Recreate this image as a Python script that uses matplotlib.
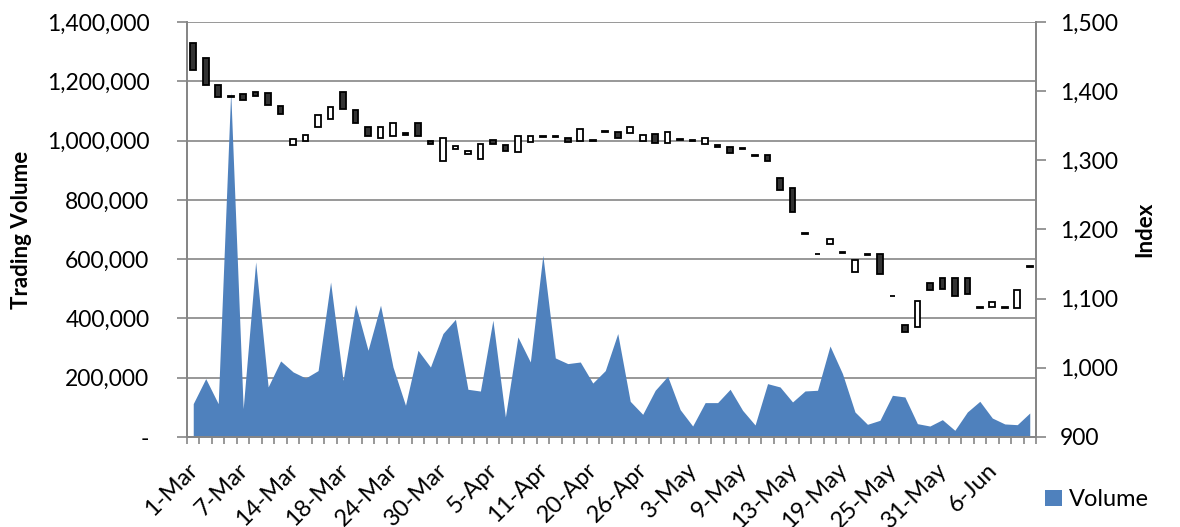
import matplotlib
matplotlib.use("Agg")
import matplotlib.pyplot as plt
from matplotlib.patches import Patch
from matplotlib.ticker import FuncFormatter, MultipleLocator, FixedLocator
from matplotlib.transforms import ScaledTranslation
import numpy as np

plt.rcParams['font.family'] = ['Lato', 'DejaVu Sans']

# ---- data ----
tick_labels = ['1-Mar', '7-Mar', '14-Mar', '18-Mar', '24-Mar', '30-Mar', '5-Apr',
               '11-Apr', '20-Apr', '26-Apr', '3-May', '9-May', '13-May', '19-May',
               '25-May', '31-May', '6-Jun']

volume = [112500, 197000, 112500, 1165000, 95700, 591000, 169000, 256600, 219500, 199000,
          224000, 523000, 191000, 447000, 292600, 444600, 236000, 107000, 292600, 236000,
          349000, 397000, 161000, 155000, 394000, 67500, 337600, 253000, 613000, 266700,
          247600, 253000, 182000, 224000, 349000, 120400, 76500, 157600, 204800, 92300,
          37100, 116000, 116000, 161000, 90000, 40500, 180000, 168800, 118200, 155300,
          157600, 307000, 213800, 84400, 42800, 56300, 140700, 135000, 45000, 37000,
          58500, 22500, 84400, 120400, 64000, 44000, 41600, 81000]

index_open = [1469.5, 1447.8, 1409.2, 1392.5, 1396.1, 1399.0, 1397.1, 1379.2, 1322.3, 1328.1,
              1348.4, 1359.9, 1399.5, 1373.0, 1347.9, 1331.9, 1335.8, 1340.2, 1353.7, 1328.6,
              1299.6, 1316.0, 1309.7, 1302.0, 1330.0, 1321.8, 1312.6, 1326.2, 1334.9, 1334.9,
              1332.4, 1328.1, 1329.1, 1342.6, 1340.6, 1340.2, 1328.6, 1338.2, 1325.7, 1331.0,
              1329.1, 1323.7, 1322.8, 1318.9, 1318.0, 1307.8, 1307.8, 1274.5, 1260.5, 1194.9,
              1165.0, 1178.5, 1166.9, 1138.9, 1164.5, 1165.0, 1104.2, 1061.7, 1059.3, 1122.0,
              1129.2, 1129.2, 1129.2, 1087.3, 1087.3, 1087.3, 1086.8, 1146.6]

index_close = [1430.9, 1408.2, 1391.8, 1391.5, 1387.0, 1392.8, 1380.2, 1367.7, 1331.0, 1336.8,
               1365.7, 1377.8, 1373.9, 1354.6, 1334.8, 1347.9, 1353.7, 1336.8, 1335.3, 1324.2,
               1331.9, 1321.3, 1313.6, 1323.7, 1324.2, 1313.1, 1334.8, 1334.8, 1333.9, 1333.9,
               1327.1, 1345.9, 1328.1, 1341.6, 1331.9, 1348.8, 1336.8, 1325.7, 1340.6, 1330.0,
               1328.1, 1332.4, 1318.9, 1310.2, 1317.0, 1306.8, 1299.1, 1257.1, 1225.8, 1193.9,
               1164.0, 1186.7, 1165.9, 1155.8, 1163.5, 1136.0, 1103.2, 1051.1, 1096.9, 1111.9,
               1113.8, 1103.7, 1106.1, 1086.3, 1095.5, 1086.3, 1112.4, 1145.6]

# ---- style ----
blue = '#4F81BD'
grid_gray = '#868686'

fig = plt.figure(figsize=(11.8, 5.27), dpi=100)
ax = fig.add_axes([187/1180, 1 - 437/527, (1036 - 187)/1180, (437 - 22)/527])
ax2 = ax.twinx()

x = np.arange(len(volume))

ax.fill_between(x, volume, 0, color=blue, linewidth=0, zorder=2)
ax.set_ylim(0, 1400000)
ax.set_xlim(-0.5, len(volume) - 0.5)
ax.yaxis.set_major_locator(MultipleLocator(200000))
ax.yaxis.set_major_formatter(FuncFormatter(lambda v, p: '-' if v == 0 else f'{v:,.0f}'))
ax.grid(axis='y', color=grid_gray, linewidth=1.2, zorder=0)
ax.set_axisbelow(True)

# candles on secondary axis
opens = np.array(index_open)
closes = np.array(index_close)
up = closes >= opens
ax2.bar(x[up], (closes - opens)[up], bottom=opens[up], width=0.45,
        color='white', edgecolor='black', linewidth=1.3, zorder=3)
ax2.bar(x[~up], (closes - opens)[~up], bottom=opens[~up], width=0.45,
        color='#333333', edgecolor='black', linewidth=1.3, zorder=3)
ax2.set_ylim(900, 1500)
ax2.yaxis.set_major_locator(MultipleLocator(100))
ax2.yaxis.set_major_formatter(FuncFormatter(lambda v, p: f'{v:,.0f}'))

# x ticks
ax.xaxis.set_major_locator(FixedLocator(np.arange(0, len(volume), 4)))
ax.set_xticklabels(tick_labels, rotation=45, ha='right', rotation_mode='anchor', fontsize=17)
ax.xaxis.set_minor_locator(FixedLocator(np.arange(-0.5, len(volume), 1.0)))
ax.tick_params(axis='x', which='major', length=0, pad=16)
ax.tick_params(axis='x', which='minor', length=5, width=1.2, color=grid_gray, direction='out')
offset = ScaledTranslation(-6/100, 0, fig.dpi_scale_trans)
for lab in ax.get_xticklabels():
    lab.set_transform(lab.get_transform() + offset)

ax.tick_params(axis='y', which='major', length=7, width=1.2, color=grid_gray,
               labelsize=16.5, pad=20, direction='out')
ax2.tick_params(axis='y', which='major', length=7, width=1.2, color=grid_gray,
                labelsize=16.5, pad=10, direction='out')

for a in (ax, ax2):
    a.spines['top'].set_visible(False)
    for side in ('left', 'right', 'bottom'):
        a.spines[side].set_color(grid_gray)
        a.spines[side].set_linewidth(1.3)

ax.set_ylabel('Trading Volume', fontsize=16, fontweight='bold', labelpad=11)
ax2.set_ylabel('Index', fontsize=16, fontweight='bold', labelpad=12)

fig.legend(handles=[Patch(facecolor=blue, edgecolor='none')], labels=['Volume'],
           loc='center left', bbox_to_anchor=(1045/1180, 0.052), frameon=False,
           borderpad=0, borderaxespad=0,
           fontsize=17, handlelength=0.7, handleheight=0.7, handletextpad=0.3)

fig.savefig('out.png', dpi=100)
